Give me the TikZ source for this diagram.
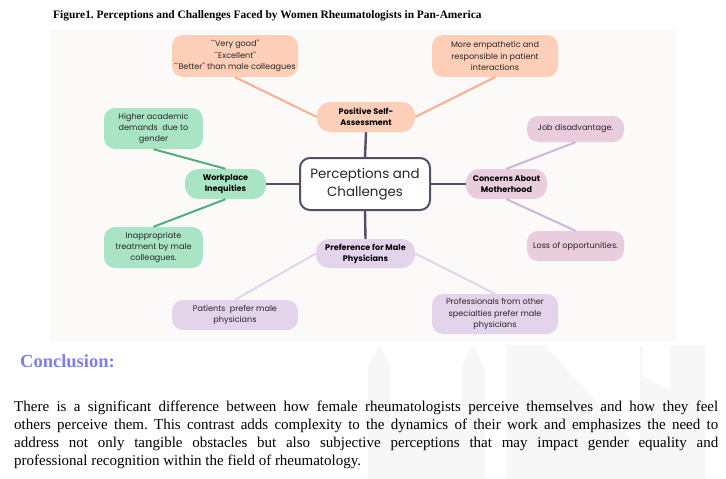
\documentclass[tikz,border=0pt]{standalone}
\usepackage{fontspec}
\setmainfont{Liberation Serif}
\newfontfamily\pop{Poppins}
\frenchspacing
\definecolor{panelbg}{HTML}{FBFAF9}
\definecolor{peachf}{HTML}{FDCFB8}
\definecolor{peachl}{HTML}{F9AE8E}
\definecolor{greenf}{HTML}{A9E4C5}
\definecolor{greenl}{HTML}{4FAE7A}
\definecolor{mauvef}{HTML}{EACDDC}
\definecolor{mauvel}{HTML}{CDB6DA}
\definecolor{lavf}{HTML}{E3D4EB}
\definecolor{lavl}{HTML}{E3D3EC}
\definecolor{darkl}{HTML}{5A4C63}
\definecolor{concl}{HTML}{7D7DF4}
\definecolor{wm}{HTML}{F7F7F7}
\tikzset{
  box/.style={rounded corners=11pt, inner sep=1pt, align=center, font=\pop\fontsize{8.1}{11.3}\selectfont, text=black!85},
  head/.style={box, rounded corners=13pt, font=\pop\bfseries\fontsize{8.1}{11.2}\selectfont, text=black},
  conn/.style={line width=2pt},
}
\begin{document}
\begin{tikzpicture}[x=1pt,y=-1pt]
\useasboundingbox (0,0) rectangle (726,479);
\fill[white] (0,0) rectangle (726,479);
% faint watermark
\fill[wm] (507,345) -- (545,345) -- (640,450) -- (640,345) -- (705,345) -- (705,479) -- (507,479) -- cycle;
\fill[white] (643,342) -- (670,346) -- (670,390) -- (643,376) -- cycle;
\fill[wm] (368,479) -- (368,365) -- (379,345) -- (390,365) -- (390,479) -- cycle;
\fill[wm] (462,479) -- (462,365) -- (473,345) -- (484,365) -- (484,479) -- cycle;
\fill[wm] (390,420) rectangle (462,479);
% panel
\fill[panelbg] (50,30) rectangle (677,342);
% title
\node[anchor=base west, inner sep=0pt, font=\bfseries\fontsize{11.4}{13}\selectfont] (title) at (53,19) {Figure1. Perceptions and Challenges Faced by Women Rheumatologists in Pan-America};
% nodes
\node[draw=darkl, line width=2pt, fill=white, rounded corners=10pt, minimum width=130pt, minimum height=52pt, inner sep=1pt, align=center, font=\pop\fontsize{13.4}{18}\selectfont, text=black!85] (c) at (365,184) {Perceptions and\\Challenges};
\node[head, fill=peachf, minimum width=98pt, minimum height=30pt] (psa) at (366,117) {Positive Self-\\Assessment};
\node[box, fill=peachf, minimum width=126pt, minimum height=42pt] (tl) at (235,56) {``Very good''\\``Excellent''\\``Better'' than male colleagues};
\node[box, fill=peachf, minimum width=126pt, minimum height=42pt] (tr) at (495,56) {More empathetic and\\responsible in patient\\interactions};
\node[head, fill=greenf, minimum width=81pt, minimum height=30pt] (wi) at (225.5,184) {Workplace\\Inequities};
\node[box, fill=greenf, minimum width=99pt, minimum height=41pt] (hi) at (153.5,128.5) {Higher academic\\demands\ \ due to\\gender};
\node[box, fill=greenf, minimum width=99pt, minimum height=41pt] (ia) at (153.5,247.5) {Inappropriate\\treatment by male\\colleagues.};
\node[head, fill=mauvef, minimum width=81pt, minimum height=30pt] (cm) at (506.5,184) {Concerns About\\Motherhood};
\node[box, fill=mauvef, minimum width=97pt, minimum height=26pt] (job) at (575.5,129) {Job disadvantage.};
\node[box, fill=mauvef, minimum width=97pt, minimum height=30pt] (loss) at (575.5,246) {Loss of opportunities.};
\node[head, fill=lavf, minimum width=99pt, minimum height=29pt] (pmp) at (365.5,253.5) {Preference for Male\\Physicians};
\node[box, fill=lavf, minimum width=126pt, minimum height=30pt] (pat) at (235,315) {Patients\ \ prefer male\\physicians};
\node[box, fill=lavf, minimum width=126pt, minimum height=40pt] (prof) at (495,314) {Professionals from other\\specialties prefer male\\physicians};
% connectors
\draw[conn, darkl, line width=2.4pt] (c.north) -- (psa.south);
\draw[conn, darkl, line width=2.4pt] (c.west) -- (wi.east);
\draw[conn, darkl, line width=2.4pt] (c.east) -- (cm.west);
\draw[conn, darkl, line width=2.4pt] (c.south) -- (pmp.north);
\draw[conn, peachl] (psa.west) -- (tl.south);
\draw[conn, peachl] (psa.east) -- (tr.south);
\draw[conn, greenl] (wi.north) -- (hi.south);
\draw[conn, greenl] (wi.south) -- (ia.north);
\draw[conn, mauvel] (cm.north) -- (job.south);
\draw[conn, mauvel] (cm.south) -- (loss.north);
\draw[conn, lavl] (pmp.west) -- (pat.north);
\draw[conn, lavl] (pmp.east) -- (prof.north);
% conclusion
\node[anchor=base west, inner sep=0pt, text=concl, font=\bfseries\fontsize{18.5}{20}\selectfont] (concl) at (20,367) {Conclusion:};
\node[anchor=base west, inner sep=0pt, text width=704pt, align=justify, font=\fontsize{15}{18}\selectfont] (para) at (14,411) {There is a significant difference between how female rheumatologists perceive themselves and how they feel\linebreak others perceive them. This contrast adds complexity to the dynamics of their work and emphasizes the need to\linebreak address not only tangible obstacles but also subjective perceptions that may impact gender equality and\linebreak professional recognition within the field of rheumatology.};
\end{tikzpicture}
\end{document}
